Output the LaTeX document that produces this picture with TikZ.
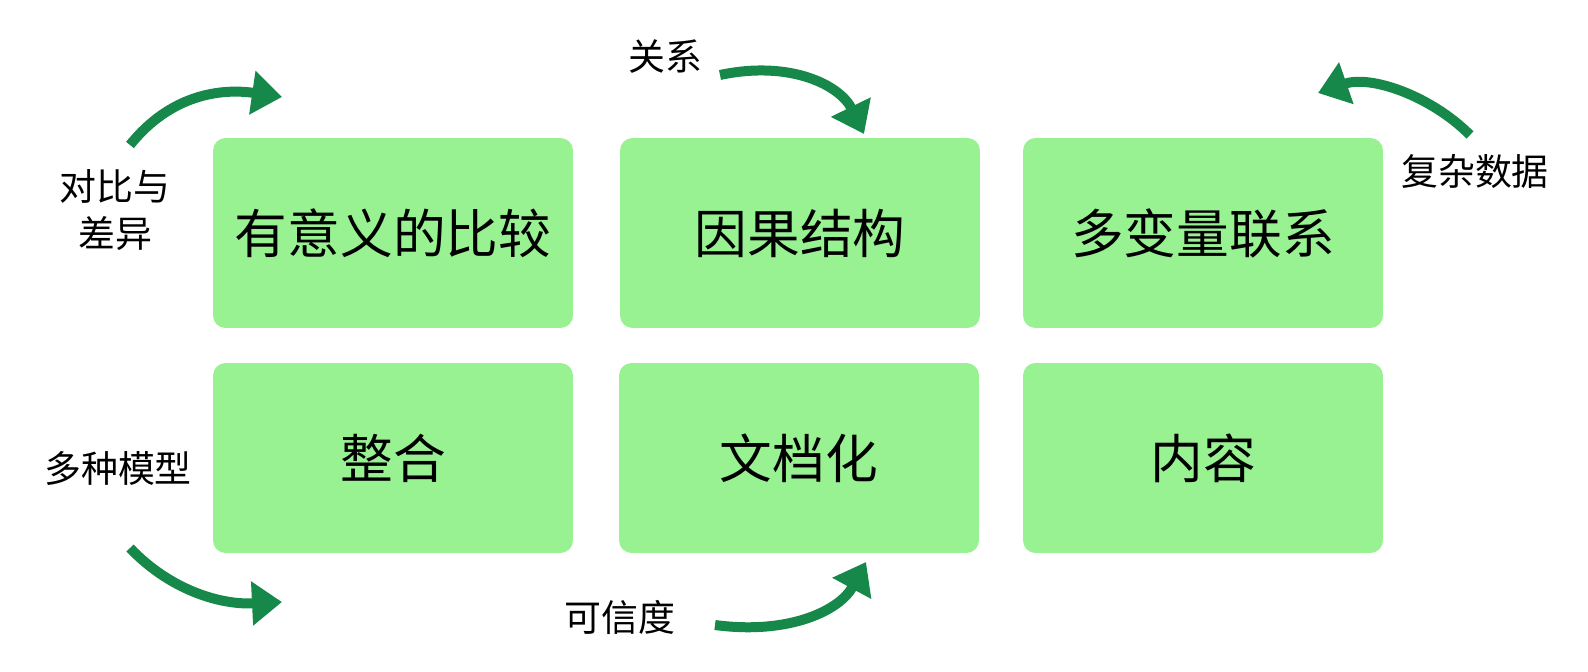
\documentclass[tikz,border=0pt]{standalone}
\usepackage{fontspec}
\setmainfont{Noto Sans CJK SC}
\usetikzlibrary{arrows.meta}
\definecolor{boxgreen}{HTML}{98F292}
\definecolor{arrowgreen}{HTML}{16894A}
\tikzset{
  box/.style={fill=boxgreen, rounded corners=0.25cm, minimum width=7.2cm, minimum height=3.8cm, font=\fontsize{30}{34}\selectfont},
  lbl/.style={font=\fontsize{21}{27}\selectfont, align=center},
  curvearrow/.style={arrowgreen, line width=0.2cm, -{Triangle[length=0.6cm,width=0.85cm]}},
}
\begin{document}
\begin{tikzpicture}[x=0.02cm,y=-0.02cm]
  \useasboundingbox (0,0) rectangle (1588,672);

  \node[box] (cmp) at (393,233) {有意义的比较};
  \node[box] (cause) at (800,233) {因果结构};
  \node[box] (multi) at (1203,233) {多变量联系};
  \node[box] (integ) at (393,458) {整合};
  \node[box] (doc) at (799,458) {文档化};
  \node[box] (cont) at (1203,458) {内容};

  \node[lbl] (l1) at (115,210) {对比与\\差异};
  \node[lbl] (l2) at (665,57) {关系};
  \node[lbl] (l3) at (1475,172) {复杂数据};
  \node[lbl] (l4) at (118,468) {多种模型};
  \node[lbl] (l5) at (620,617) {可信度};

  \coordinate (a1s) at (130,145); \coordinate (a1e) at (282,97);
  \coordinate (a2s) at (720,75);  \coordinate (a2e) at (864,134);
  \coordinate (a3s) at (1470,135); \coordinate (a3e) at (1318,93);
  \coordinate (a4s) at (130,548); \coordinate (a4e) at (282,602);
  \coordinate (a5s) at (715,625); \coordinate (a5e) at (866,562);

  \draw[curvearrow] (a1s) .. controls (170,95) and (220,88) .. (a1e);
  \draw[curvearrow] (a2s) .. controls (790,60) and (840,85) .. (a2e);
  \draw[curvearrow] (a3s) .. controls (1430,95) and (1370,75) .. (a3e);
  \draw[curvearrow] (a4s) .. controls (170,590) and (220,605) .. (a4e);
  \draw[curvearrow] (a5s) .. controls (790,635) and (840,610) .. (a5e);
\end{tikzpicture}
\end{document}
